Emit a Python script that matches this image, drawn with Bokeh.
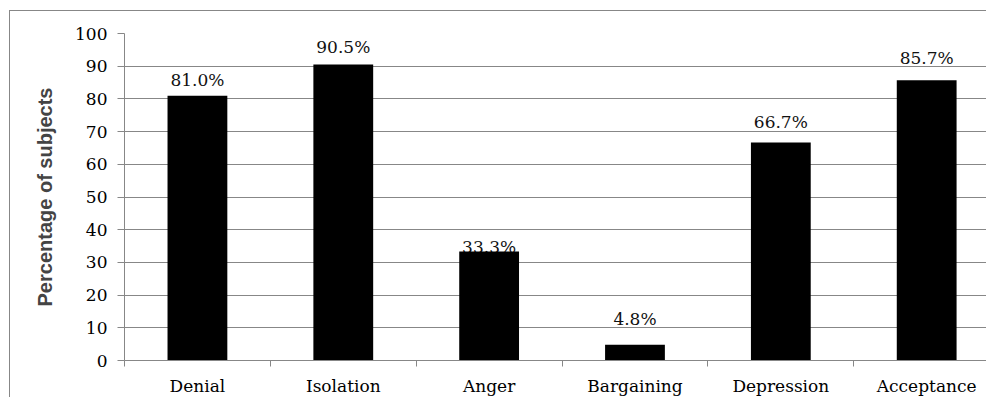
from bokeh.plotting import figure
from bokeh.models import Range1d, FixedTicker, ColumnDataSource
from bokeh.core.properties import value
from bokeh.embed import file_html
from bokeh.resources import INLINE

# Stages and share of subjects showing each one
stages = ["Denial", "Isolation", "Anger", "Bargaining", "Depression", "Acceptance"]
percent = [81.0, 90.5, 33.3, 4.8, 66.7, 85.7]
y_ticks = [0, 10, 20, 30, 40, 50, 60, 70, 80, 90, 100]

# Pixel lift of each value label above its bar top
label_lift = [16, 18, 5, 26, 20, 22]

GRID = "#878787"
SERIF = "DejaVu Serif"
SANS = "Liberation Sans"

centers = [i + 0.5 for i in range(len(stages))]
src = ColumnDataSource(dict(
    x=centers,
    top=percent,
    label=[f"{v:.1f}%" for v in percent],
    lift=[-v for v in label_lift],
))

p = figure(
    width=977, height=387,
    x_range=Range1d(0, 5.917), y_range=Range1d(0, 100),
    output_backend="svg", toolbar_location=None,
    min_border_left=114, min_border_top=22, min_border_bottom=37, min_border_right=0,
)
p.styles = {
    "border-left": f"1px solid {GRID}",
    "border-top": f"1px solid {GRID}",
    "margin-left": "9px",
    "margin-top": "10px",
}
p.outline_line_color = None
p.background_fill_color = "white"
p.border_fill_color = "white"

# value labels go in first so a bar can sit over its own label
p.text(x="x", y="top", text="label", source=src, y_offset="lift",
       text_align="center", text_baseline="alphabetic",
       text_font=value(SERIF), text_font_size="17px", text_color="#111111")
p.vbar(x="x", top="top", bottom=0, width=0.41, source=src,
       fill_color="black", line_color=None)

# y axis
p.yaxis.ticker = FixedTicker(ticks=y_ticks)
p.yaxis.axis_label = "Percentage of subjects"
p.yaxis.axis_label_text_font = SANS
p.yaxis.axis_label_text_font_style = "bold"
p.yaxis.axis_label_text_font_size = "20px"
p.yaxis.axis_label_standoff = 16
p.yaxis.axis_line_color = GRID
p.yaxis.major_tick_line_color = GRID
p.yaxis.major_tick_out = 7
p.yaxis.major_tick_in = 0
p.yaxis.minor_tick_line_color = None
p.yaxis.major_label_standoff = 10
p.yaxis.major_label_text_font = SERIF
p.yaxis.major_label_text_font_size = "17px"
p.yaxis.major_label_text_color = "black"

# x axis: names under bars, ticks at category boundaries
p.xaxis.ticker = FixedTicker(ticks=centers, minor_ticks=list(range(len(stages))))
p.xaxis.major_label_overrides = {c: s for c, s in zip(centers, stages)}
p.xaxis.axis_line_color = GRID
p.xaxis.major_tick_line_color = None
p.xaxis.major_tick_out = 0
p.xaxis.major_tick_in = 0
p.xaxis.minor_tick_line_color = GRID
p.xaxis.minor_tick_out = 6
p.xaxis.minor_tick_in = 0
p.xaxis.major_label_standoff = 9
p.xaxis.major_label_text_font = SERIF
p.xaxis.major_label_text_font_size = "17px"
p.xaxis.major_label_text_color = "black"

p.xgrid.grid_line_color = None
p.ygrid.grid_line_color = GRID
p.ygrid.grid_line_width = 1

open("out.html", "w").write(file_html(p, INLINE))
